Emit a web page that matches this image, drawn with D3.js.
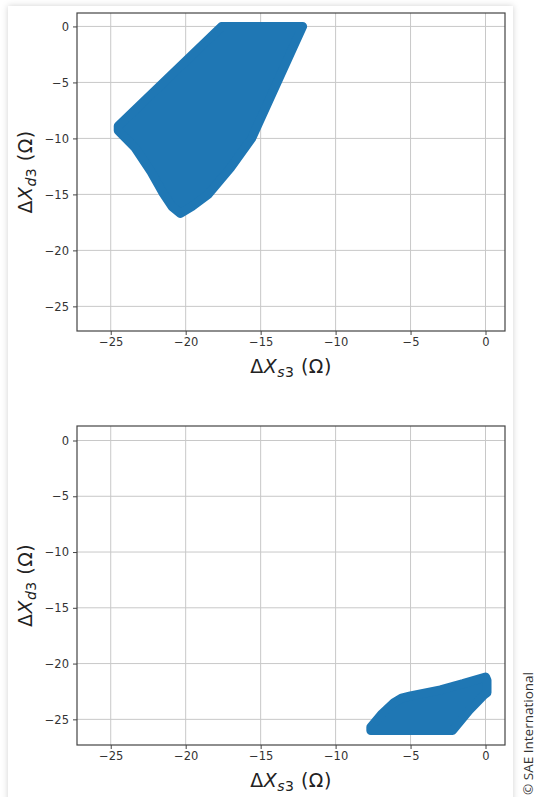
<!DOCTYPE html>
<html>
<head>
<meta charset="utf-8">
<script src="https://cdn.jsdelivr.net/npm/d3@7"></script>
<style>
  html, body { margin: 0; padding: 0; background: #fff; overflow: hidden; }
</style>
</head>
<body>
<script>
// tick values shared by both panels
const xTicks = [-25, -20, -15, -10, -5, 0];
const yTicks = [-25, -20, -15, -10, -5, 0];

// outline of the scattered operating region (marker centres), [ΔXs3, ΔXd3]
const regionTop = [
  [-17.6, 0], [-12.2, 0], [-15.6, -10], [-17.0, -12.6], [-18.5, -15],
  [-19.6, -16.1], [-20.35, -16.7], [-20.9, -16.1], [-21.5, -14.9],
  [-22.3, -13.0], [-23.4, -10.8], [-24.5, -9.3], [-24.5, -8.9]
];
const regionBottom = [
  [-7.65, -26], [-2.2, -26], [-1.1, -24.2], [-0.1, -22.8], [0.1, -22.6],
  [0.1, -21.5], [0.0, -21.2], [-1.5, -21.8], [-3.0, -22.35], [-5.0, -22.9],
  [-5.6, -23.1], [-6.1, -23.5], [-6.9, -24.5], [-7.65, -25.7]
];

const W = 537, H = 797;
const blue = "#1f77b4";

const svg = d3.select("body").append("svg")
  .attr("width", W)
  .attr("height", H)
  .style("display", "block");

const defs = svg.append("defs");
const shadow = defs.append("filter").attr("id", "shadow")
  .attr("x", "-5%").attr("y", "-5%").attr("width", "110%").attr("height", "110%");
shadow.append("feDropShadow")
  .attr("dx", 0).attr("dy", 0).attr("stdDeviation", 3)
  .attr("flood-color", "#000").attr("flood-opacity", 0.18);

// page card
svg.append("rect")
  .attr("x", 8).attr("y", 6)
  .attr("width", 505).attr("height", H + 20)
  .attr("fill", "#fff")
  .attr("filter", "url(#shadow)");

function axisLabel(sel, sub) {
  sel.append("tspan").text("Δ");
  sel.append("tspan").style("font-style", "italic").text("X");
  sel.append("tspan").style("font-style", "italic").style("font-size", "14px")
    .attr("dy", 4).text(sub);
  sel.append("tspan").style("font-size", "14px").text("3");
  sel.append("tspan").attr("dy", -4).text(" (Ω)");
}

function drawPanel(top, bottom, yDomain, region) {
  const left = 77, right = 505;

  const x = d3.scaleLinear().domain([-27.25, 1.3]).range([left, right]);
  const y = d3.scaleLinear().domain(yDomain).range([bottom, top]);

  const g = svg.append("g");

  // grid
  g.append("g").selectAll("line")
    .data(xTicks)
    .join("line")
      .attr("x1", d => x(d)).attr("x2", d => x(d))
      .attr("y1", top).attr("y2", bottom)
      .attr("stroke", "#c8c8c8").attr("stroke-width", 1);
  g.append("g").selectAll("line")
    .data(yTicks)
    .join("line")
      .attr("y1", d => y(d)).attr("y2", d => y(d))
      .attr("x1", left).attr("x2", right)
      .attr("stroke", "#c8c8c8").attr("stroke-width", 1);

  // region
  const line = d3.line().x(d => x(d[0])).y(d => y(d[1])).curve(d3.curveLinearClosed);
  g.append("path")
    .attr("d", line(region))
    .attr("fill", blue)
    .attr("stroke", blue)
    .attr("stroke-width", 9)
    .attr("stroke-linejoin", "round");

  // axes
  g.append("g")
    .attr("transform", `translate(0,${bottom})`)
    .call(d3.axisBottom(x).tickValues(xTicks).tickSize(4).tickPadding(3))
    .call(a => a.select(".domain").remove())
    .call(a => a.selectAll("text")
      .style("font", "11.5px 'DejaVu Sans'").attr("fill", "#333"))
    .call(a => a.selectAll("line").attr("stroke", "#444"));

  g.append("g")
    .attr("transform", `translate(${left},0)`)
    .call(d3.axisLeft(y).tickValues(yTicks).tickSize(4).tickPadding(4))
    .call(a => a.select(".domain").remove())
    .call(a => a.selectAll("text")
      .style("font", "11.5px 'DejaVu Sans'").attr("fill", "#333"))
    .call(a => a.selectAll("line").attr("stroke", "#444"));

  // spines
  g.append("rect")
    .attr("x", left).attr("y", top)
    .attr("width", right - left).attr("height", bottom - top)
    .attr("fill", "none").attr("stroke", "#444").attr("stroke-width", 1.2);

  // labels
  g.append("text")
    .attr("x", (left + right) / 2)
    .attr("y", bottom + 42)
    .attr("text-anchor", "middle")
    .style("font", "19px 'DejaVu Sans'")
    .style("letter-spacing", "0.5px")
    .attr("fill", "#222")
    .call(axisLabel, "s");

  g.append("text")
    .attr("transform", `translate(32,${(top + bottom) / 2}) rotate(-90)`)
    .attr("text-anchor", "middle")
    .style("font", "19px 'DejaVu Sans'")
    .style("letter-spacing", "0.5px")
    .attr("fill", "#222")
    .call(axisLabel, "d");
}

drawPanel(13, 331, [-27.2, 1.2], regionTop);
drawPanel(426, 745, [-27.3, 1.3], regionBottom);

svg.append("text")
  .attr("transform", "translate(533,795) rotate(-90)")
  .style("font", "13.5px 'Open Sans'")
  .attr("fill", "#333")
  .text("© SAE International");
</script>
</body>
</html>
